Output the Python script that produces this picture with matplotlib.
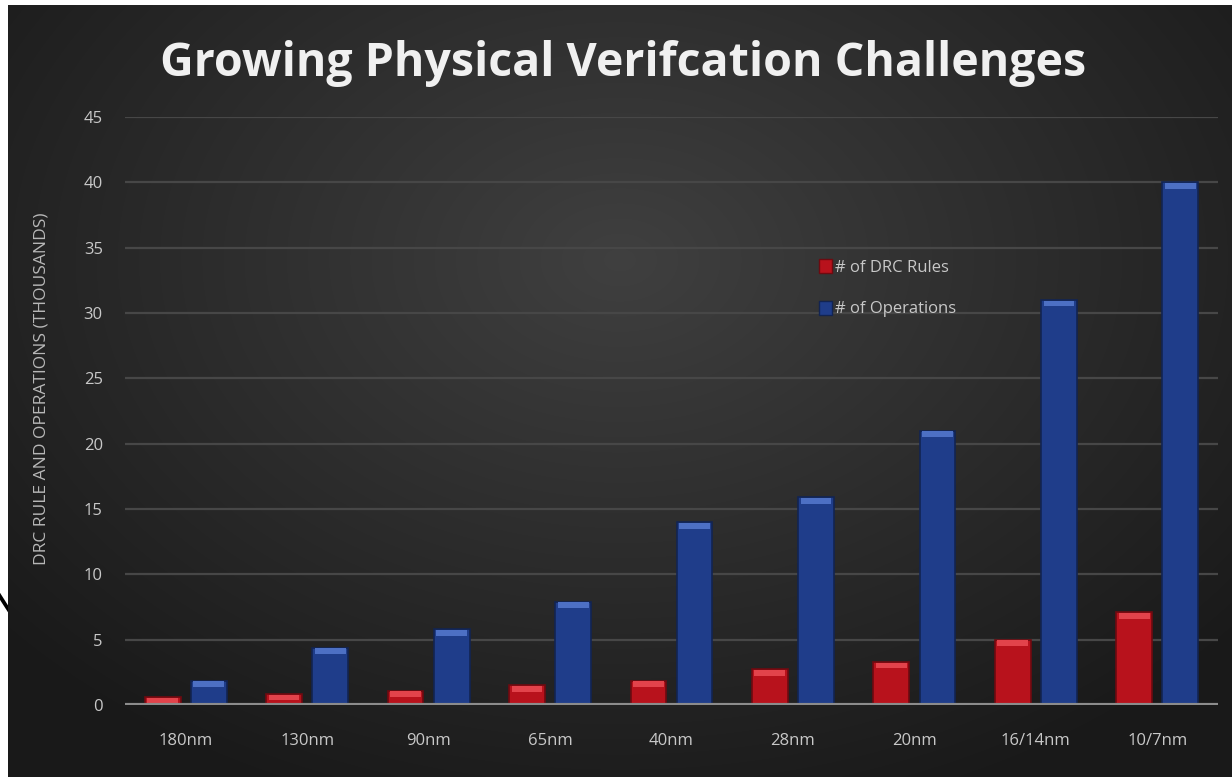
import matplotlib.pyplot as plt
import numpy as np
from matplotlib.patches import Patch

# node names and counts (thousands)
nodes = ['180nm', '130nm', '90nm', '65nm', '40nm', '28nm', '20nm', '16/14nm', '10/7nm']
drc_rules = [0.6, 0.85, 1.1, 1.5, 1.85, 2.75, 3.3, 5.0, 7.1]
operations = [1.85, 4.4, 5.8, 7.9, 14.0, 15.9, 21.0, 31.0, 40.0]
yticks = [0, 5, 10, 15, 20, 25, 30, 35, 40, 45]

plt.rcParams['font.family'] = ['Open Sans', 'DejaVu Sans']

fig = plt.figure(figsize=(12.32, 7.77), dpi=100)
fig.patch.set_facecolor('white')

# stray letter on the white margin
fig.text(-0.008, 0.21, 'N', fontsize=34, color='black', ha='left', va='center', zorder=0)

# dark radial background panel
bg = fig.add_axes([8 / 1232, 0, 1 - 8 / 1232, 1 - 5 / 777])
bg.set_zorder(1)
yy, xx = np.mgrid[0:1:400j, 0:1:640j]
r = np.sqrt(((xx - 0.5) / 0.75) ** 2 + ((yy - 0.33) / 0.85) ** 2)
shade = np.clip(0.25 - 0.17 * r, 0.1, 0.25)
img = np.dstack([shade, shade, shade])
bg.imshow(img, extent=[0, 1, 0, 1], aspect='auto', origin='upper', interpolation='bilinear')
bg.set_axis_off()

ax = fig.add_axes([125 / 1232, 72 / 777, 1093 / 1232, 588 / 777])
ax.set_zorder(2)
ax.patch.set_alpha(0)

x = np.arange(len(nodes))
w = 0.295
off = 0.19

red, red_hi, red_edge = '#b8121c', '#e2434b', '#6e0a10'
blue, blue_hi, blue_edge = '#1f3d8a', '#4d70c4', '#122452'

ax.bar(x - off, drc_rules, w, color=red, edgecolor=red_edge, linewidth=1.2, zorder=3)
ax.bar(x + off, operations, w, color=blue, edgecolor=blue_edge, linewidth=1.2, zorder=3)

# bevel highlight at the top of each bar
bev = 0.45
for xi, v in zip(x - off, drc_rules):
    h = min(bev, v * 0.6)
    ax.bar(xi, h, w * 0.86, bottom=v - h - 0.05, color=red_hi, linewidth=0, zorder=4)
for xi, v in zip(x + off, operations):
    h = min(bev, v * 0.6)
    ax.bar(xi, h, w * 0.86, bottom=v - h - 0.05, color=blue_hi, linewidth=0, zorder=4)

ax.set_xlim(-0.5, len(nodes) - 0.5)
ax.set_ylim(0, 45)
ax.set_yticks(yticks)
ax.set_xticks(x)
ax.set_xticklabels(nodes)
for y in yticks[1:]:
    ax.axhline(y, color='#474747', linewidth=1.6, zorder=1)
ax.axhline(0, color='#8c8c8c', linewidth=3, zorder=5)

for s in ax.spines.values():
    s.set_visible(False)
ax.tick_params(axis='both', length=0, colors='#c8c8c8', labelsize=12)
ax.tick_params(axis='x', pad=20)
ax.tick_params(axis='y', pad=16)

ax.set_ylabel('DRC RULE AND OPERATIONS (THOUSANDS)', fontsize=12.5, color='#b8b8b8')
ax.yaxis.set_label_coords(-0.069, 0.537)

fig.text(0.506, 0.918, 'Growing Physical Verifcation Challenges', fontsize=33.5,
         fontweight='bold', color='#f0f0f0', ha='center', va='center', zorder=5)

handles = [Patch(facecolor=red, edgecolor=red_edge, label='# of DRC Rules'),
           Patch(facecolor=blue, edgecolor=blue_edge, label='# of Operations')]
leg = ax.legend(handles=handles, loc='upper left', bbox_to_anchor=(804 / 1232, 1 - 244 / 777),
                bbox_transform=fig.transFigure, frameon=False, fontsize=12,
                handlelength=0.8, handleheight=0.9, handletextpad=0.15, labelspacing=1.5)
for t in leg.get_texts():
    t.set_color('#c8c8c8')

fig.savefig('out.png', dpi=100, facecolor=fig.get_facecolor())
